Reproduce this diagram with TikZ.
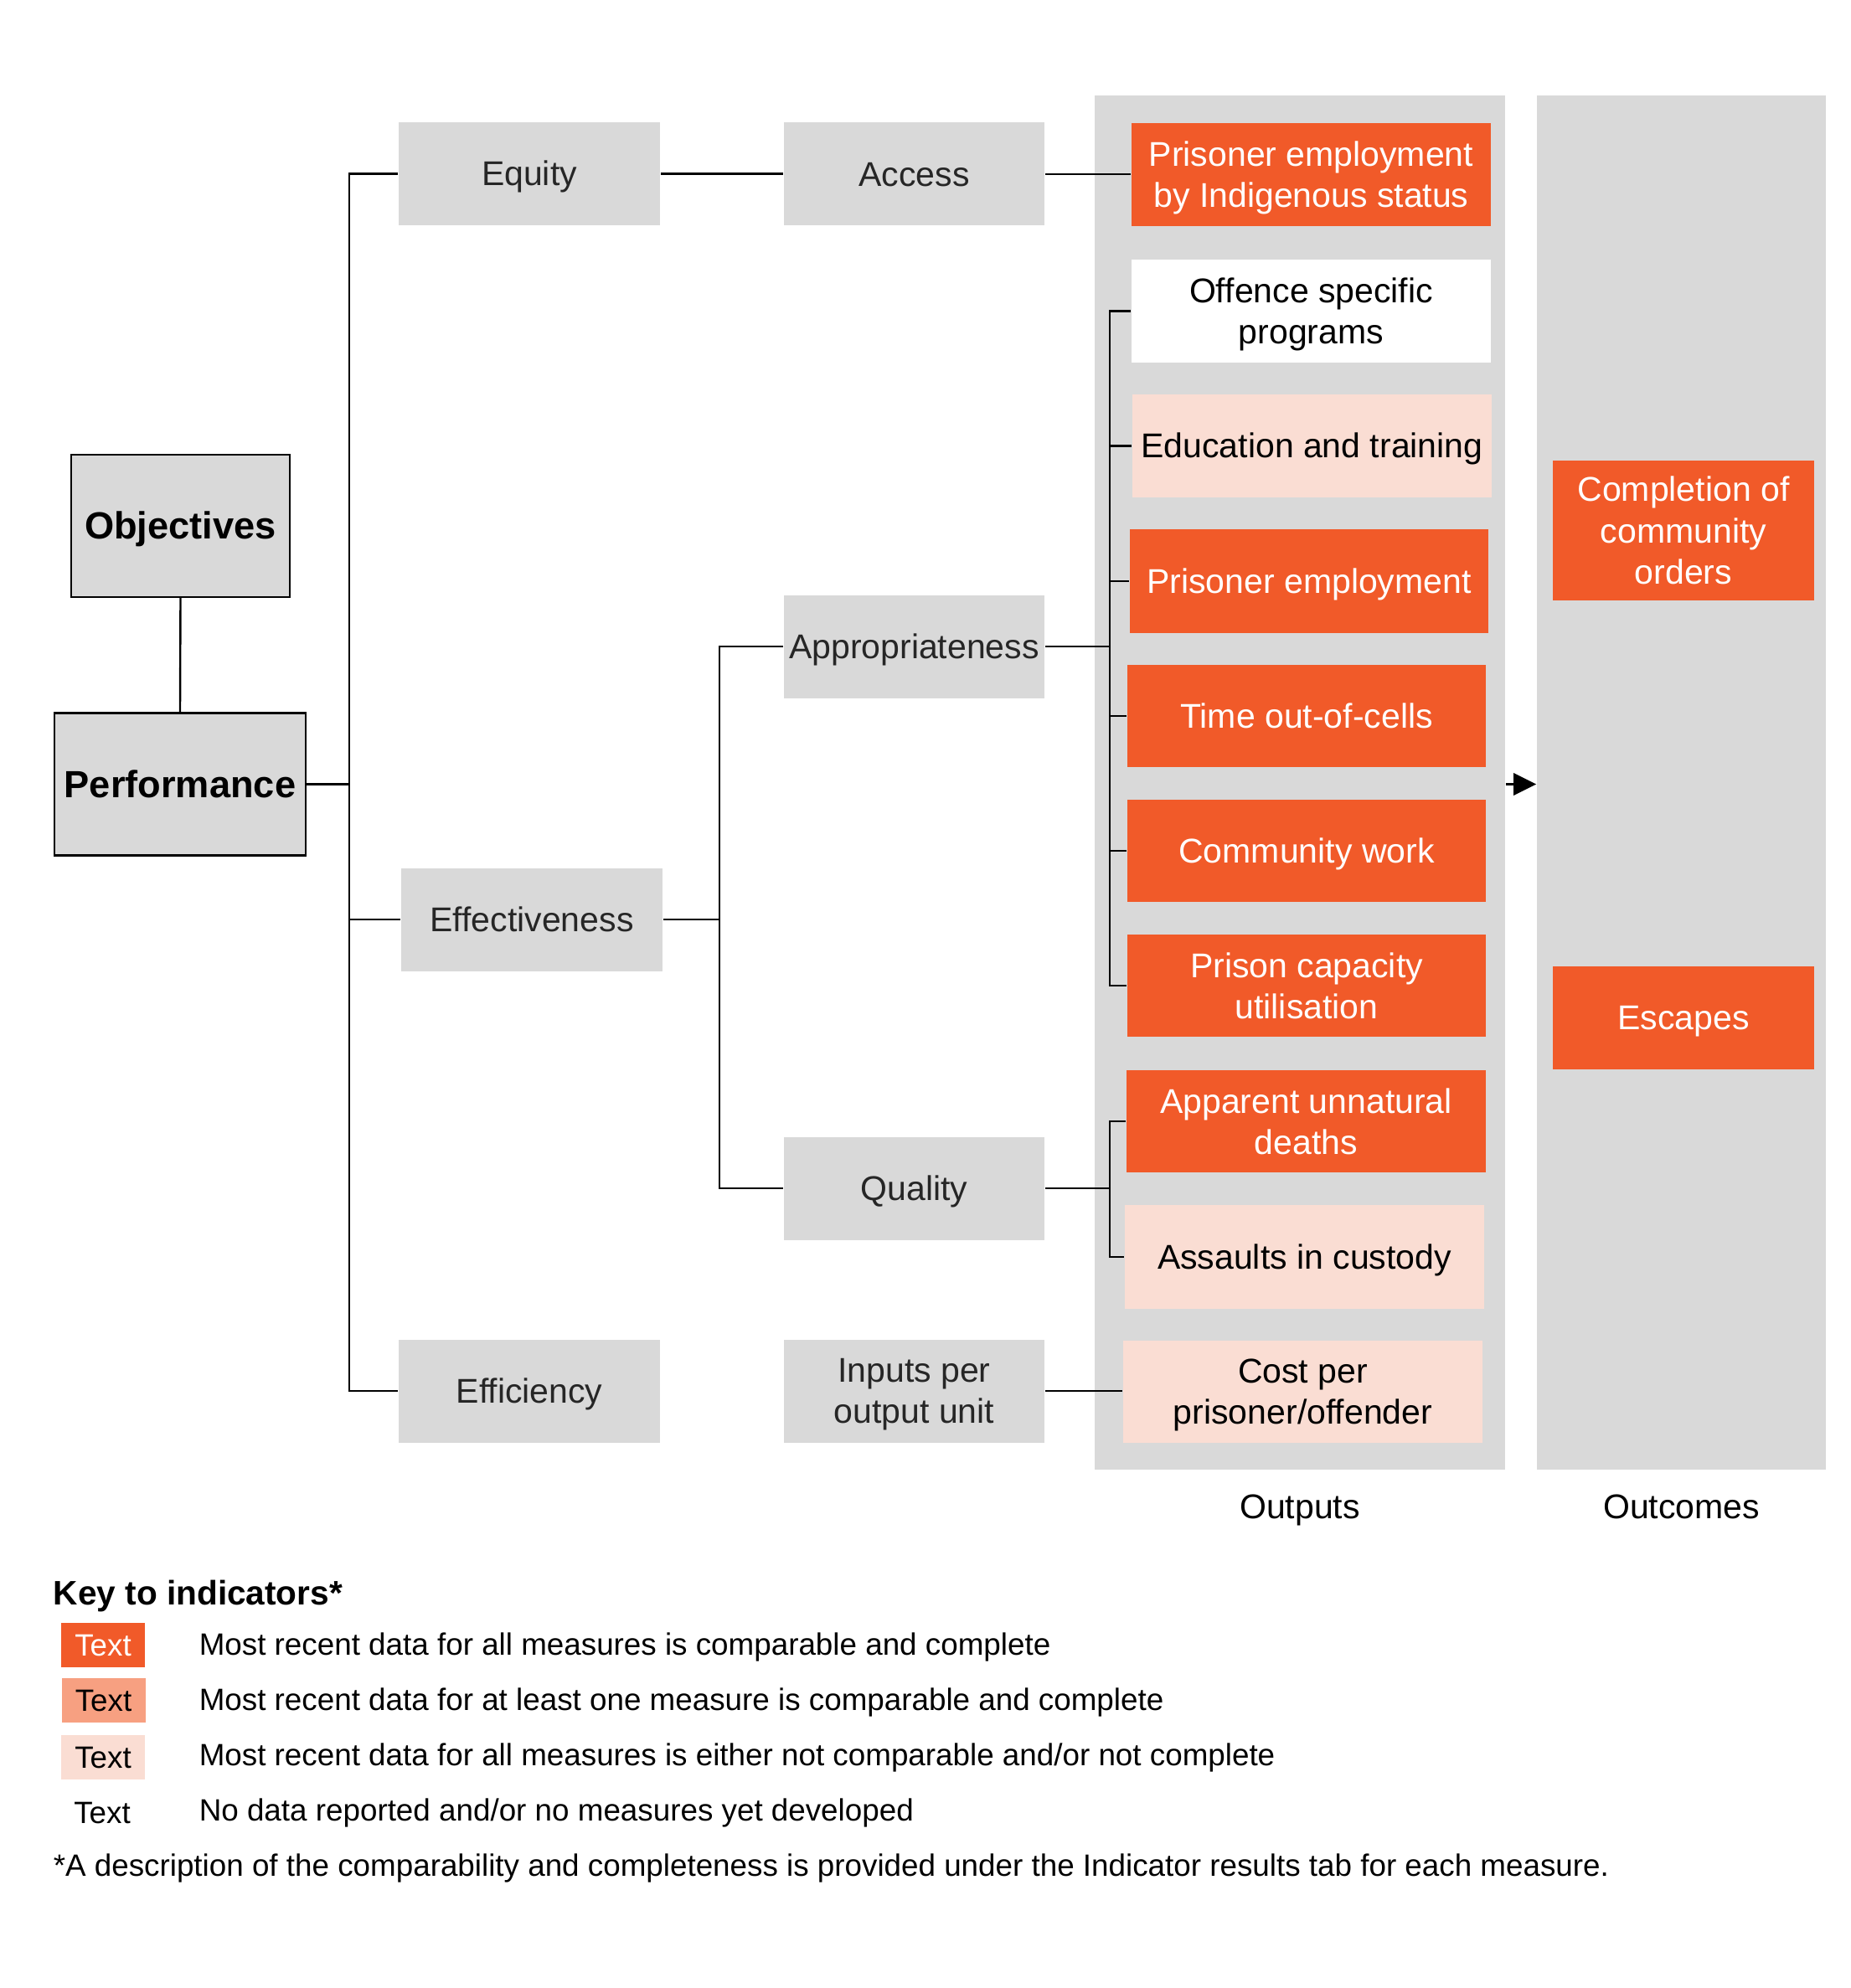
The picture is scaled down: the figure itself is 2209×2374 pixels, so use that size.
\documentclass[tikz,border=0pt]{standalone}
\usepackage{fontspec}
\setmainfont{Liberation Sans}
\usetikzlibrary{arrows.meta}
\definecolor{boxgray}{HTML}{D9D9D9}
\definecolor{orangeA}{HTML}{F15A29}
\definecolor{orangeB}{HTML}{F7A081}
\definecolor{orangeC}{HTML}{FADDD3}
\definecolor{txtgray}{HTML}{262626}
\newcommand\mainsize{\fontsize{10.25pt}{12.3pt}\selectfont}
\newcommand\boldsize{\fontsize{11.3pt}{13.5pt}\selectfont\bfseries}
\newcommand\keysize{\fontsize{9.2pt}{11pt}\selectfont}
\newcommand\keyhead{\fontsize{10.15pt}{12pt}\selectfont\bfseries}
\newcommand\capst{\rule[-0.19em]{0pt}{1.095em}}
\tikzset{
  wh/.style 2 args={minimum width=#1*0.25pt, minimum height=#2*0.25pt},
  base/.style={inner sep=0pt, align=center, font=\mainsize,
    execute at begin node=\capst, execute at end node=\capst},
  objbox/.style={base, draw=black, line width=0.6pt, fill=boxgray, font=\boldsize},
  graybox/.style={base, fill=boxgray, text=txtgray, wh={311}{123}},
  full/.style={base, fill=orangeA, text=white},
  some/.style={base, fill=orangeB, text=black},
  weak/.style={base, fill=orangeC, text=black},
  nodata/.style={base, fill=white, text=black},
  column/.style={inner sep=0pt, fill=boxgray},
  conn/.style={line width=0.6pt, black},
  keytext/.style={inner sep=0pt, anchor=mid west, font=\keysize},
  swatch/.style={inner sep=0pt, wh={100}{53}, font=\keysize,
    execute at begin node=\capst, execute at end node=\capst}
}
\begin{document}
\begin{tikzpicture}[x=0.25pt,y=-0.25pt]
\useasboundingbox (0,0) rectangle (2209,2374);

% columns
\node[column, wh={490}{1641}] (outcol) at (1552,934.5) {};
\node[column, wh={345}{1641}] (incol) at (2007.5,934.5) {};
\node[base] (outlbl) at (1552,1799) {Outputs};
\node[base] (inlbl) at (2007.5,1799) {Outcomes};

% left boxes
\node[objbox, wh={261}{170}] (obj) at (215.5,628) {Objectives};
\node[objbox, wh={300}{170}] (perf) at (215,936.5) {Performance};

% level 2
\node[graybox, wh={312}{123}] (equity) at (632,207.5) {Equity};
\node[graybox, wh={312}{123}] (effect) at (635,1098) {Effectiveness};
\node[graybox, wh={312}{123}] (effic) at (632,1661) {Efficiency};

% level 3
\node[graybox] (access) at (1091.5,208) {Access};
\node[graybox] (approp) at (1091.5,772) {Appropriateness};
\node[graybox] (quality) at (1091.5,1419) {Quality};
\node[graybox] (inputs) at (1091.5,1661) {\capst Inputs per\\output unit\capst};

% outputs
\node[full, wh={429}{123}] (peis) at (1565.5,208.5) {\capst Prisoner employment\\by Indigenous status\capst};
\node[nodata, wh={429}{123}] (offence) at (1565.5,371.5) {\capst Offence specific\\programs\capst};
\node[weak, wh={429}{123}] (edu) at (1566.5,532.5) {Education and training};
\node[full, wh={428}{124}] (pe) at (1563,694) {Prisoner employment};
\node[full, wh={428}{122}] (time) at (1560,855) {Time out-of-cells};
\node[full, wh={428}{122}] (comm) at (1560,1016) {Community work};
\node[full, wh={428}{122}] (prison) at (1560,1177) {\capst Prison capacity\\utilisation\capst};
\node[full, wh={429}{122}] (deaths) at (1559.5,1339) {\capst Apparent unnatural\\deaths\capst};
\node[weak, wh={429}{124}] (assault) at (1557.5,1501) {Assaults in custody};
\node[weak, wh={429}{122}] (cost) at (1555.5,1662) {\capst Cost per\\prisoner/offender\capst};

% outcomes
\node[full, wh={312}{167}] (compl) at (2010,633.5) {\capst Completion of\\community\\orders\capst};
\node[full, wh={312}{123}] (escapes) at (2010,1215.5) {Escapes};

% connector coordinates
\coordinate (tr) at (417,0);
\coordinate (br) at (859,0);
\coordinate (bk) at (1325,0);

% connectors
\draw[conn] (obj.south) -- (perf.north);
\draw[conn] (perf.east) -- (perf.east -| tr);
\draw[conn] (equity.west) -- (equity.west -| tr) -- (effic.west -| tr) -- (effic.west);
\draw[conn] (effect.west) -- (effect.west -| tr);
\draw[conn] (equity.east) -- (access.west |- equity.east);
\draw[conn] (access.east) -- (peis.west |- access.east);
\draw[conn] (approp.west) -- (approp.west -| br) -- (quality.west -| br) -- (quality.west);
\draw[conn] (effect.east) -- (effect.east -| br);
\draw[conn] (offence.west) -- (offence.west -| bk) -- (prison.west -| bk) -- (prison.west);
\draw[conn] (approp.east) -- (approp.east -| bk);
\draw[conn] (edu.west -| bk) -- (edu.west);
\draw[conn] (pe.west -| bk) -- (pe.west);
\draw[conn] (time.west -| bk) -- (time.west);
\draw[conn] (comm.west -| bk) -- (comm.west);
\draw[conn] (deaths.west) -- (deaths.west -| bk) -- (assault.west -| bk) -- (assault.west);
\draw[conn] (quality.east) -- (quality.east -| bk);
\draw[conn] (inputs.east) -- (cost.west |- inputs.east);
\draw[conn, -{Triangle[length=6.8pt,width=6.6pt]}] (outcol.east |- perf.east) -- (incol.west |- perf.east);

% key
\node[inner sep=0pt, anchor=mid west, font=\keyhead] (keyh) at (63,1906) {Key to indicators*};
\node[swatch, fill=orangeA, text=white] (k1) at (123,1964.5) {Text};
\node[swatch, fill=orangeB, text=black] (k2) at (123.5,2030.5) {Text};
\node[swatch, fill=orangeC, text=black] (k3) at (123,2098) {Text};
\node[swatch, text=black] (k4) at (122,2164) {Text};
\node[keytext] (t1) at (237,1966) {Most recent data for all measures is comparable and complete};
\node[keytext] (t2) at (237,2032) {Most recent data for at least one measure is comparable and complete};
\node[keytext] (t3) at (237,2098) {Most recent data for all measures is either not comparable and/or not complete};
\node[keytext] (t4) at (237,2164) {No data reported and/or no measures yet developed};
\node[keytext] (foot) at (63,2230) {*A description of the comparability and completeness is provided under the Indicator results tab for each measure.};
\end{tikzpicture}
\end{document}
